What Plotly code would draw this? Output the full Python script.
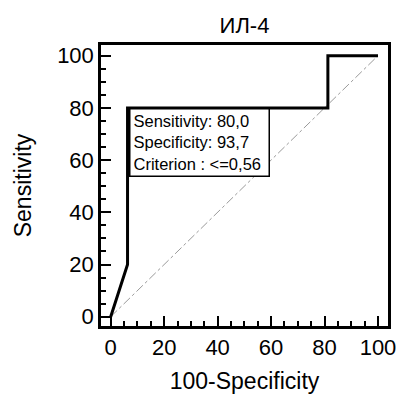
import plotly.graph_objects as go

# ROC curve points (100-Specificity, Sensitivity)
fpr = [0, 6.3, 6.3, 81.25, 81.25, 100]
tpr = [0, 20, 80, 80, 100, 100]
# reference diagonal
diag_x = [0, 100]
diag_y = [0, 100]

title_text = "ИЛ-4"
x_title = "100-Specificity"
y_title = "Sensitivity"
tick_vals = [0, 20, 40, 60, 80, 100]
box_lines = ["Sensitivity: 80,0", "Specificity: 93,7", "Criterion : <=0,56"]
box_anchor = (6.9, 80)

FONT = "Liberation Sans, Arial, sans-serif"

fig = go.Figure()
fig.add_trace(go.Scatter(x=diag_x, y=diag_y, mode="lines",
                         line=dict(color="#9a9a9a", width=1, dash="dashdot"),
                         hoverinfo="skip", showlegend=False))
fig.add_trace(go.Scatter(x=fpr, y=tpr, mode="lines",
                         line=dict(color="black", width=3),
                         showlegend=False))

fig.add_annotation(x=box_anchor[0], y=box_anchor[1], xref="x", yref="y",
                   xanchor="left", yanchor="top", showarrow=False,
                   text="<br>".join(box_lines), align="left",
                   font=dict(family=FONT, size=16.5, color="black"),
                   bgcolor="white", bordercolor="black", borderwidth=1.5,
                   borderpad=3, width=132, height=60)

axis_common = dict(
    showline=True, linecolor="black", linewidth=2.5, mirror=True,
    showgrid=False, zeroline=False, automargin=False,
    ticks="inside", ticklen=10, tickwidth=2, tickcolor="black",
    tickvals=tick_vals,
    minor=dict(dtick=5, tick0=0, ticks="inside", ticklen=5, tickwidth=2, tickcolor="black"),
    tickfont=dict(family=FONT, size=22, color="black"),
)

fig.update_layout(
    width=399, height=394,
    margin=dict(l=101, r=11, t=45, b=68, autoexpand=False),
    paper_bgcolor="white", plot_bgcolor="white",
    title=dict(text=title_text, x=0.5, xref="paper", y=1 - 25 / 394,
               yref="container", yanchor="middle", xanchor="center",
               automargin=False,
               font=dict(family=FONT, size=22, color="black")),
    xaxis=dict(range=[-3.63, 103.74],
               title=dict(text=x_title, standoff=16,
                          font=dict(family=FONT, size=23, color="black")),
               **axis_common),
    yaxis=dict(range=[-3.56, 104.1],
               title=dict(text=y_title, standoff=20,
                          font=dict(family=FONT, size=23, color="black")),
               **axis_common),
)

fig.write_html("out.html",
               config={"displayModeBar": False},
               post_script="document.body.style.margin='0';document.body.style.padding='0';")
